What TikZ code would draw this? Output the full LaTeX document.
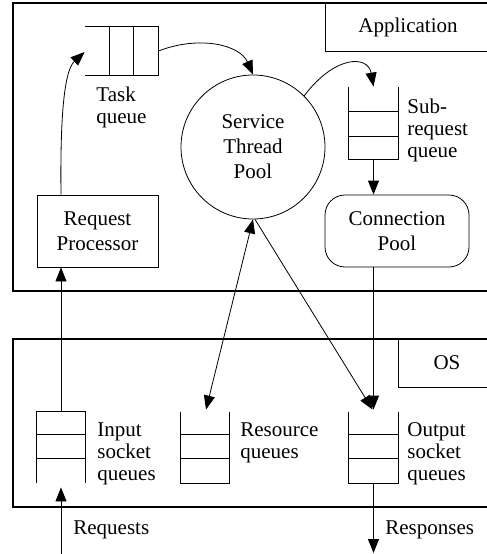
\documentclass[tikz,border=0pt]{standalone}
\usepackage{fontspec}
\setmainfont{Liberation Serif}
\usetikzlibrary{arrows.meta}
\begin{document}
\begin{tikzpicture}[x=1pt,y=-1pt,line width=0.8pt,
  head/.tip={Triangle[length=14pt,width=11pt]},
  tip/.style={-head},
  frame/.style={line width=1.6pt},
  qbox/.style={inner sep=0pt,draw=none},
  boxtxt/.style={font=\fontsize{21}{25}\selectfont,align=center},
  lbl/.style={font=\fontsize{21}{22}\selectfont,align=left,anchor=north west,inner sep=0pt}]
\useasboundingbox (0,0) rectangle (487,554);
\clip (0,0) rectangle (487,554);
% Application frame
\draw[frame] (495,3) -- (13,3) -- (13,291) -- (495,291);
\draw (325,3) -- (325,51) -- (495,51);
\node[boxtxt] (applbl) at (408,27) {Application};
% OS frame
\draw[frame] (495,339) -- (13,339) -- (13,507) -- (495,507);
\draw (398,339) -- (398,387) -- (495,387);
\node[boxtxt] (oslbl) at (447,363) {OS};
% Task queue
\node[qbox,minimum width=73pt,minimum height=48pt] (tq) at (121.5,51) {};
\draw (tq.north west) -- (tq.north east) -- (tq.south east) -- (tq.south west);
\draw ([xshift=-25pt]tq.north east) -- ([xshift=-25pt]tq.south east);
\draw ([xshift=-49pt]tq.north east) -- ([xshift=-49pt]tq.south east);
\node[lbl] (tqlbl) at (96,87) {Task\\queue};
% Service thread pool
\node[circle,draw,minimum size=144pt,inner sep=0pt,boxtxt] (stp) at (253,147) {Service\\Thread\\Pool};
% Sub-request queue
\node[qbox,minimum width=49pt,minimum height=72pt] (sq) at (373.5,123) {};
\draw (sq.north west) -- (sq.south west) -- (sq.south east) -- (sq.north east);
\draw ([yshift=23pt]sq.south west) -- ([yshift=23pt]sq.south east);
\draw ([yshift=48pt]sq.south west) -- ([yshift=48pt]sq.south east);
\node[lbl] (sqlbl) at (407,99) {Sub-\\request\\queue};
% Request processor
\node[draw,minimum width=121pt,minimum height=72pt,boxtxt] (rp) at (97.5,231) {Request\\Processor};
% Connection pool
\node[draw,rounded corners=20pt,minimum width=144pt,minimum height=72pt,boxtxt] (cp) at (397,231) {Connection\\Pool};
% Input socket queues
\node[qbox,minimum width=48pt,minimum height=71pt] (iq) at (61,447.5) {};
\draw (iq.south west) -- (iq.north west) -- (iq.north east) -- (iq.south east);
\draw ([yshift=-23pt]iq.north west) -- ([yshift=-23pt]iq.north east);
\draw ([yshift=-47pt]iq.north west) -- ([yshift=-47pt]iq.north east);
\node[lbl] (iqlbl) at (97,422) {Input\\socket\\queues};
% Resource queues
\node[qbox,minimum width=48pt,minimum height=71pt] (rq) at (205,447.5) {};
\draw (rq.north west) -- (rq.south west) -- (rq.south east) -- (rq.north east);
\draw ([yshift=-23pt]rq.north west) -- ([yshift=-23pt]rq.north east);
\draw ([yshift=-47pt]rq.north west) -- ([yshift=-47pt]rq.north east);
\node[lbl] (rqlbl) at (240,422) {Resource\\queues};
% Output socket queues
\node[qbox,minimum width=49pt,minimum height=71pt] (oq) at (373.5,447.5) {};
\draw (oq.north west) -- (oq.south west) -- (oq.south east) -- (oq.north east);
\draw ([yshift=-23pt]oq.north west) -- ([yshift=-23pt]oq.north east);
\draw ([yshift=-47pt]oq.north west) -- ([yshift=-47pt]oq.north east);
\node[lbl] (oqlbl) at (407,422) {Output\\socket\\queues};
% external
\coordinate (reqin) at (61,556);
\coordinate (resout) at (373.5,553);
\node[boxtxt,anchor=west,inner sep=0pt] (reqlbl) at (73,530) {Requests};
\node[boxtxt,anchor=west,inner sep=0pt] (reslbl) at (385,530) {Responses};
% connectors
\draw[tip] (rp.north -| iq.north) .. controls (60,110) and (65,70) .. ([yshift=-1pt]tq.west);
\draw[tip] (tq.east) .. controls (200,35) and (240,45) .. (stp.north);
\draw[tip] (stp.45) .. controls (335,55) and (368,55) .. (sq.north);
\draw[tip] (sq.south) -- (cp.north -| sq.south);
\draw[tip] (iq.north) -- (rp.south -| iq.north);
\draw[tip] (reqin) -- ([yshift=-4pt]iq.south);
\draw[head-head] (stp.south) -- ([xshift=1pt,yshift=2pt]rq.north);
\draw[tip] ([xshift=2pt]stp.south) -- ([xshift=-1pt,yshift=2pt]oq.north);
\draw[tip] (cp.south -| oq.north) -- ([yshift=2pt]oq.north);
\draw[tip] (oq.south) -- (resout);
\end{tikzpicture}
\end{document}
